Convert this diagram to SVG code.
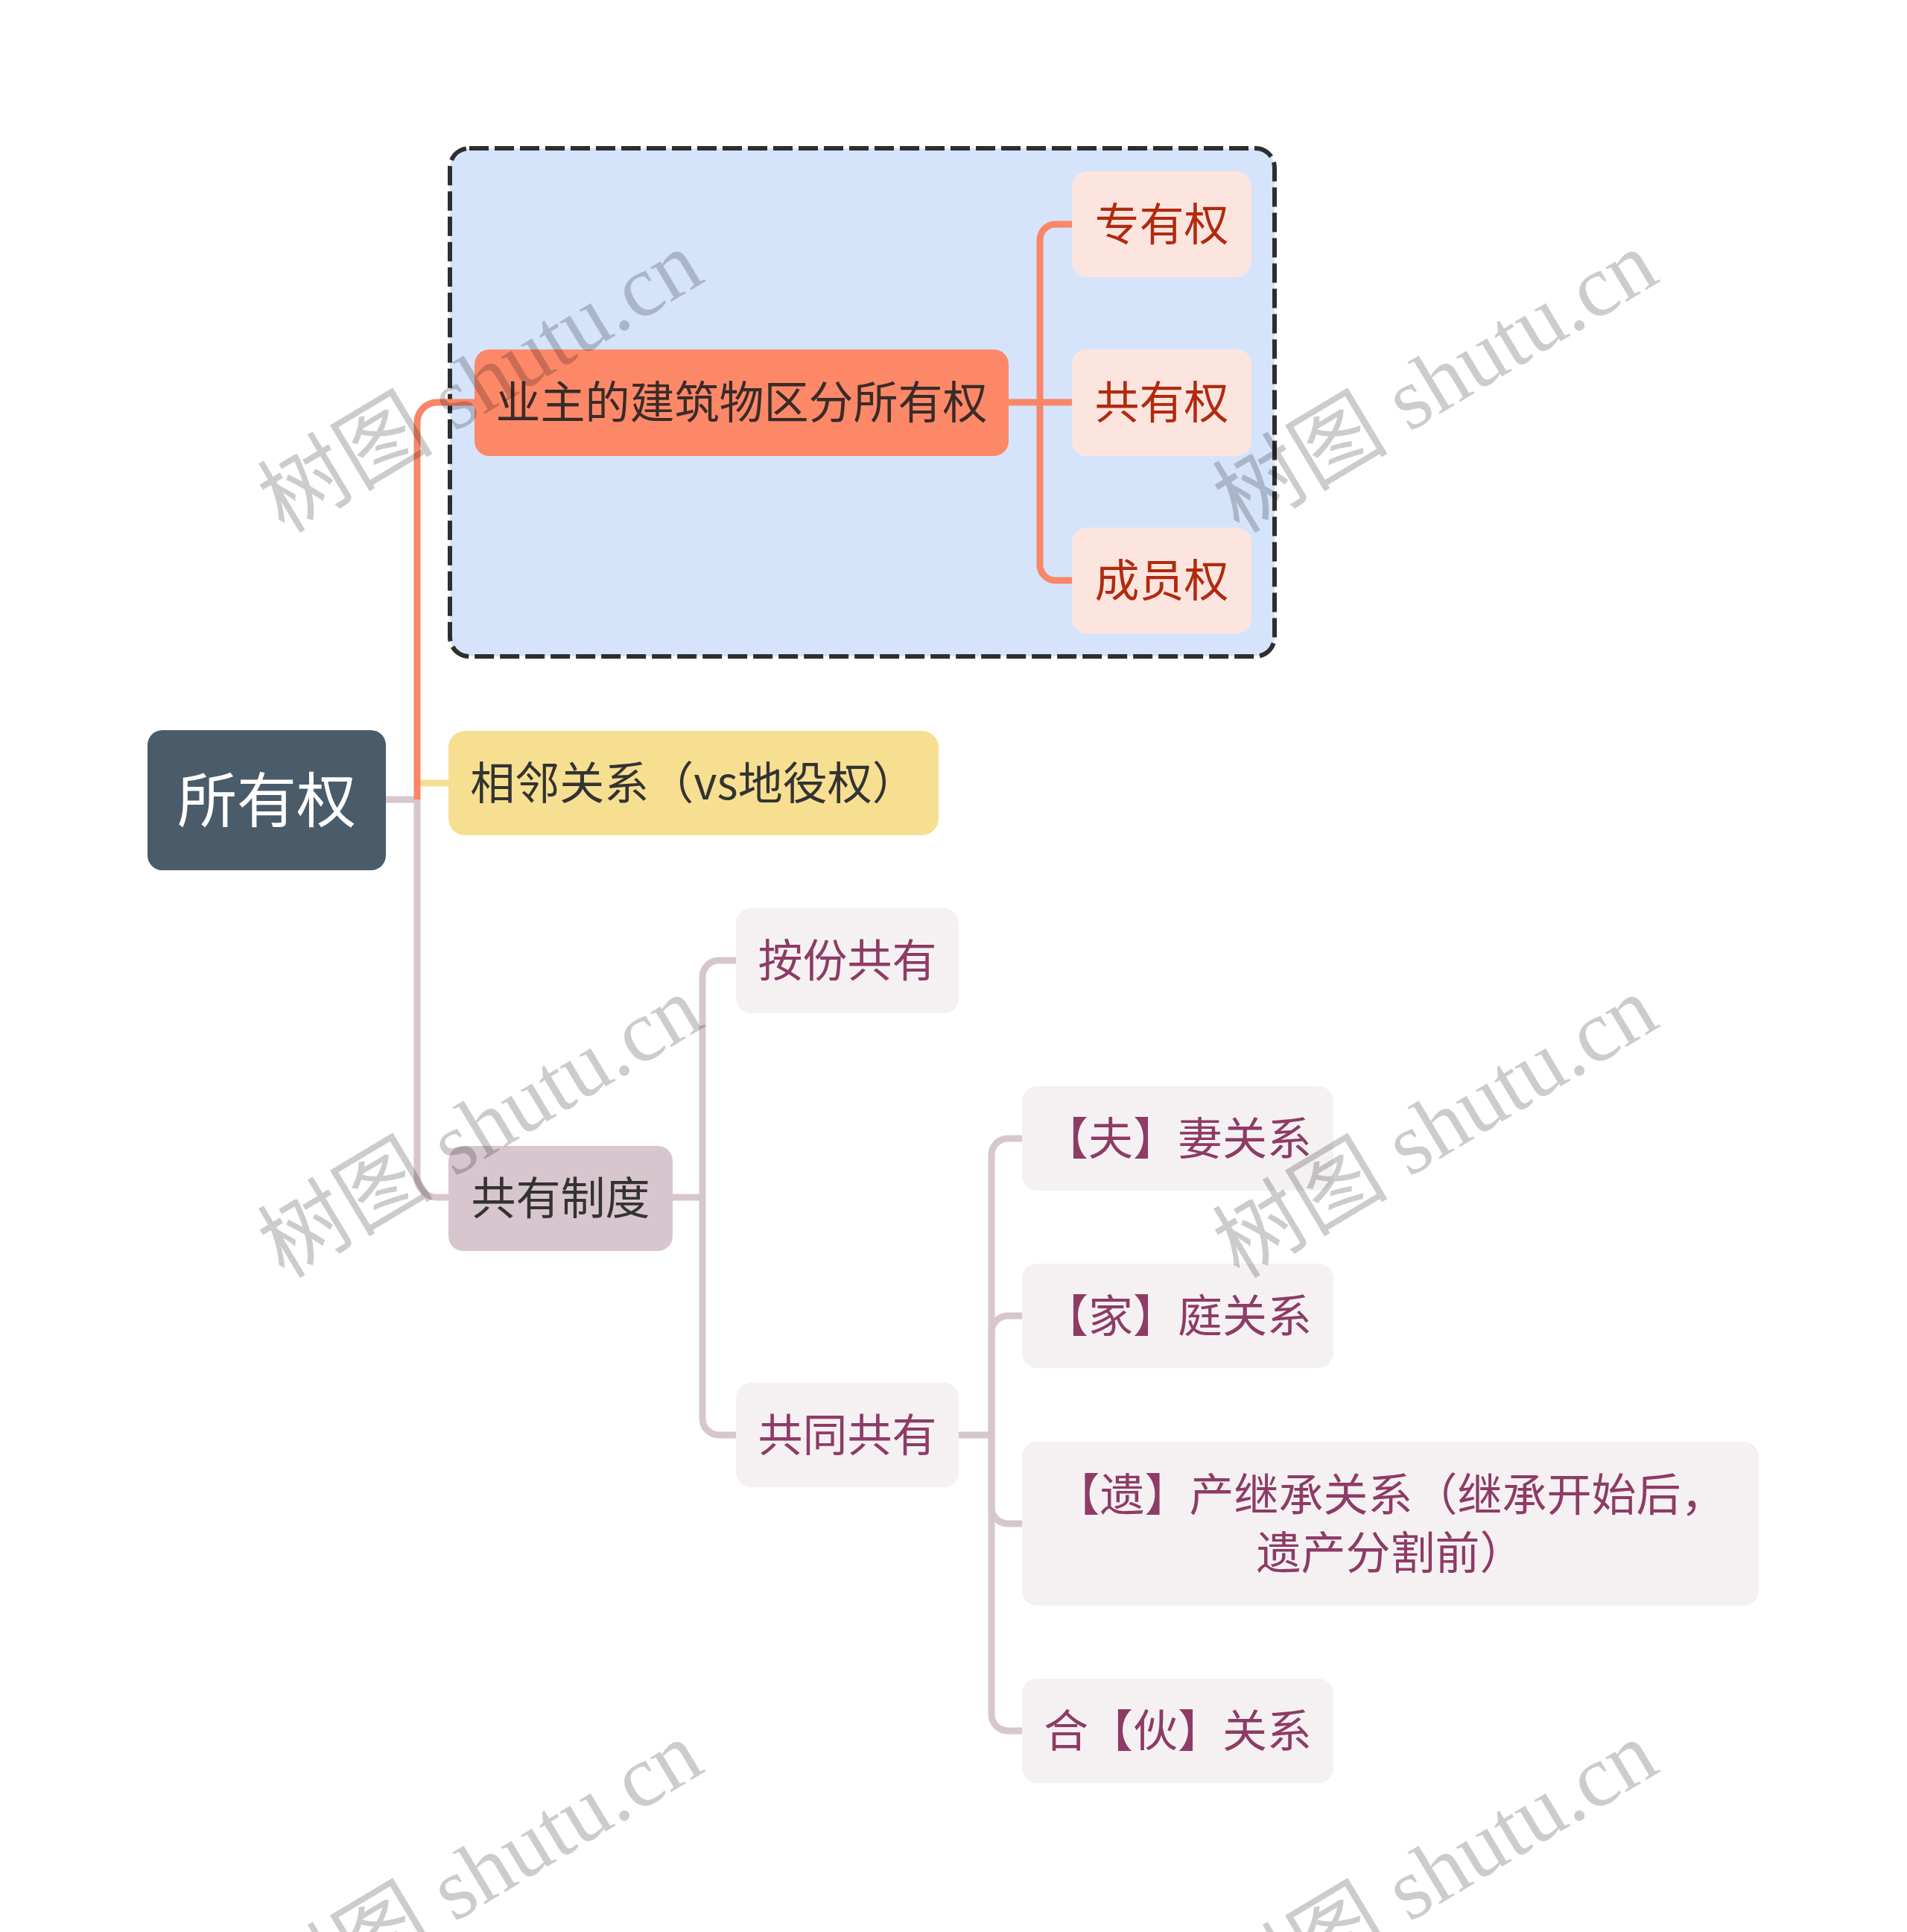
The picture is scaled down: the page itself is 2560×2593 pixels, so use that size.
<svg xmlns="http://www.w3.org/2000/svg" width="2560" height="2593" viewBox="0 0 2560 2593">
<style>
.t{font-family:"Noto Sans CJK SC","Noto Sans",sans-serif;text-anchor:middle}
.s60{font-size:60px}
.wm{font-family:"Liberation Serif","Noto Sans CJK SC",serif;font-size:118px;fill:#000;fill-opacity:0.2;text-anchor:middle;dominant-baseline:central}
.ln{fill:none;stroke-width:9;stroke-linecap:butt}
.or{stroke:#FA8668}
.pk{stroke:#D8C6CF}
.ye{stroke:#F7DF91}
</style>
<rect width="2560" height="2593" fill="#FFFFFF"/>
<g id="boundary">
<rect x="604" y="199" width="1107" height="682" rx="26" ry="26" fill="#D5E4FB" stroke="#2E2E2E" stroke-width="6" stroke-dasharray="26 8"/>
</g>
<g id="connectors">
<path class="ln pk" d="M518,1073 H560"/>
<path class="ln ye" d="M560,1051 H602"/>
<path class="ln or" d="M560,1073 V567 A27,27 0 0 1 587,540 H637"/>
<path class="ln pk" d="M560,1073 V1580 A27,27 0 0 0 587,1607 H602"/>
<path class="ln or" d="M1354,540 H1439"/>
<path class="ln or" d="M1396,540 V322 A21,21 0 0 1 1417,301 H1439"/>
<path class="ln or" d="M1396,540 V758 A21,21 0 0 0 1417,779 H1439"/>
<path class="ln pk" d="M903,1607 H943"/>
<path class="ln pk" d="M943,1607 V1311 A22,22 0 0 1 965,1289 H988"/>
<path class="ln pk" d="M943,1607 V1904 A22,22 0 0 0 965,1926 H988"/>
<path class="ln pk" d="M1287,1926 H1331"/>
<path class="ln pk" d="M1331,1926 V1550 A22,22 0 0 1 1353,1528 H1372"/>
<path class="ln pk" d="M1331,1926 V1788 A22,22 0 0 1 1353,1766 H1372"/>
<path class="ln pk" d="M1331,1926 V2023 A22,22 0 0 0 1353,2045 H1372"/>
<path class="ln pk" d="M1331,1926 V2301 A22,22 0 0 0 1353,2323 H1372"/>
</g>
<g id="root">
<rect x="198" y="980" width="320" height="188" rx="20" fill="#4A5B6A"/>
<text class="t" x="358" y="1103" font-size="80" fill="#FFFFFF">所有权</text>
</g>
<g id="n-yezhu">
<rect x="637" y="469" width="717" height="143" rx="20" fill="#FC8868"/>
<text class="t s60" x="995.5" y="562" fill="#3A2B28">业主的建筑物区分所有权</text>
</g>
<g id="n-zhuanyou">
<rect x="1439" y="230" width="241" height="142" rx="20" fill="#FDE5DF"/>
<text class="t s60" x="1559.5" y="323" fill="#B12A0F">专有权</text>
</g>
<g id="n-gongyouquan">
<rect x="1439" y="469" width="241" height="143" rx="20" fill="#FDE5DF"/>
<text class="t s60" x="1559.5" y="562" fill="#B12A0F">共有权</text>
</g>
<g id="n-chengyuan">
<rect x="1439" y="708" width="241" height="142" rx="20" fill="#FDE5DF"/>
<text class="t s60" x="1559.5" y="801" fill="#B12A0F">成员权</text>
</g>
<g id="n-xianglin">
<rect x="602" y="981" width="658" height="140" rx="22" fill="#F7DF91"/>
<text class="t s60" x="931" y="1073" fill="#333333">相邻关系（vs地役权）</text>
</g>
<g id="n-gongyouzhidu">
<rect x="602" y="1538" width="301" height="141" rx="20" fill="#D8C6CF"/>
<text class="t s60" x="752.5" y="1630" fill="#333333">共有制度</text>
</g>
<g id="n-anfen">
<rect x="988" y="1219" width="299" height="141" rx="20" fill="#F5F1F3"/>
<text class="t s60" x="1137.5" y="1311" fill="#8E3B66">按份共有</text>
</g>
<g id="n-gongtong">
<rect x="988" y="1856" width="299" height="140" rx="20" fill="#F5F1F3"/>
<text class="t s60" x="1137.5" y="1948" fill="#8E3B66">共同共有</text>
</g>
<g id="n-fuqi">
<rect x="1372" y="1458" width="418" height="140" rx="20" fill="#F5F1F3"/>
<text class="t s60" x="1581" y="1550" fill="#8E3B66">【夫】妻关系</text>
</g>
<g id="n-jiating">
<rect x="1372" y="1696" width="418" height="140" rx="20" fill="#F5F1F3"/>
<text class="t s60" x="1581" y="1788" fill="#8E3B66">【家】庭关系</text>
</g>
<g id="n-yichan">
<rect x="1372" y="1935" width="989" height="220" rx="20" fill="#F5F1F3"/>
<text class="t s60" fill="#8E3B66"><tspan x="1866.5" y="2028">【遗】产继承关系（继承开始后，</tspan><tspan x="1866.5" y="2106">遗产分割前）</tspan></text>
</g>
<g id="n-hehuo">
<rect x="1372" y="2253" width="418" height="140" rx="20" fill="#F5F1F3"/>
<text class="t s60" x="1581" y="2345" fill="#8E3B66">合【伙】关系</text>
</g>
<g id="watermarks">
<text class="wm" transform="translate(645,513) rotate(-31)">树图 shutu.cn</text>
<text class="wm" transform="translate(1927,513) rotate(-31)">树图 shutu.cn</text>
<text class="wm" transform="translate(645,1513) rotate(-31)">树图 shutu.cn</text>
<text class="wm" transform="translate(1927,1513) rotate(-31)">树图 shutu.cn</text>
<text class="wm" transform="translate(645,2513) rotate(-31)">树图 shutu.cn</text>
<text class="wm" transform="translate(1927,2513) rotate(-31)">树图 shutu.cn</text>
</g>
</svg>
